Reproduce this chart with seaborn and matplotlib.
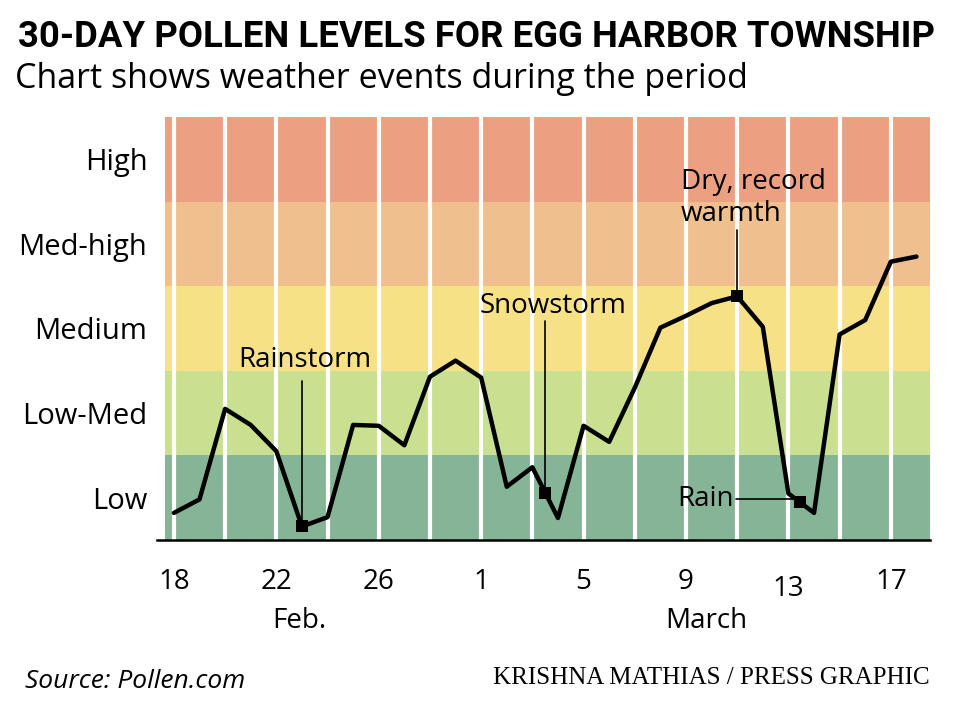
import numpy as np
import pandas as pd
import matplotlib.pyplot as plt
import matplotlib.transforms as mtransforms
import seaborn as sns

# data
days = list(range(30))
pollen = [0.32, 0.48, 1.55, 1.36, 1.05, 0.16, 0.27, 1.36, 1.35, 1.12,
          1.93, 2.12, 1.92, 0.63, 0.86, 0.26, 1.35, 1.16, 1.80, 2.51,
          2.65, 2.80, 2.88, 2.52, 0.55, 0.32, 2.43, 2.60, 3.29, 3.35]
levels = ["Low", "Low-Med", "Medium", "Med-high", "High"]
level_colors = ["#85b497", "#c8e08f", "#f7e186", "#efbf8e", "#eba082"]
tick_days = list(range(0, 30, 2))
tick_labels = ["18", "", "22", "", "26", "", "1", "", "5", "", "9", "", "13", "", "17"]
months = ["Feb.", "March"]
month_days = [4.9, 20.8]
event_names = ["Rainstorm", "Snowstorm", "Dry, record\nwarmth", "Rain"]
event_days = [5, 14.5, 22, 24.45]

df = pd.DataFrame({"day": days, "pollen": pollen})
ev = pd.DataFrame({"day": event_days,
                   "pollen": np.interp(event_days, days, pollen)})

sns.set_style("white")
plt.rcParams["font.family"] = ["Open Sans", "DejaVu Sans"]
plt.rcParams["text.color"] = "black"
plt.rcParams["xtick.color"] = "black"
plt.rcParams["ytick.color"] = "black"

fig = plt.figure(figsize=(9.68, 7.06), dpi=100)
ax = fig.add_axes([157 / 968, 1 - 540 / 706, 773 / 968, 423 / 706])

for i, c in enumerate(level_colors):
    ax.axhspan(i, i + 1, xmin=0.0103, xmax=1, color=c, lw=0, zorder=0)

sns.lineplot(data=df, x="day", y="pollen", ax=ax, color="black", lw=3.2,
             zorder=3)
sns.scatterplot(data=ev, x="day", y="pollen", ax=ax, color="black",
                marker="s", s=80, linewidth=0, zorder=4)

ax.set_xlim(-0.66, 29.53)
ax.set_ylim(0, 5)
ax.set_xlabel("")
ax.set_ylabel("")

ax.set_xticks(tick_days)
ax.set_xticklabels(tick_labels)
ax.set_yticks([0.5, 1.5, 2.5, 3.5, 4.5])
ax.set_yticklabels(levels)
ax.grid(axis="x", color="white", lw=3)
ax.grid(axis="y", visible=False)
ax.tick_params(axis="x", length=19, width=1.8, color="black",
               labelcolor="black", direction="out", pad=1, labelsize=20)
ax.tick_params(axis="y", length=0, pad=7, labelsize=21, labelcolor="black")
ax.xaxis.get_major_ticks()[12].set_pad(6)

for s in ["top", "left", "right"]:
    ax.spines[s].set_visible(False)
ax.spines["bottom"].set_linewidth(1.8)
ax.spines["bottom"].set_color("black")

trans = mtransforms.blended_transform_factory(ax.transData, ax.transAxes)
for m, d in zip(months, month_days):
    ax.text(d, -0.208, m, transform=trans, ha="center", va="baseline",
            fontsize=20)

# event annotations
lbl = dict(fontsize=20, color="black", zorder=5)
ax.plot([event_days[0]] * 2, [ev.pollen[0], 1.88], color="black", lw=1.2)
ax.text(5.1, 2.05, event_names[0], ha="center", va="baseline", **lbl)
ax.plot([event_days[1]] * 2, [ev.pollen[1], 2.59], color="black", lw=1.2)
ax.text(14.8, 2.68, event_names[1], ha="center", va="baseline", **lbl)
ax.plot([event_days[2]] * 2, [ev.pollen[2], 3.66], color="black", lw=1.2)
ax.text(19.8, 3.69, event_names[2], ha="left", va="bottom",
        linespacing=1.17, **lbl)
ax.plot([21.95, event_days[3]], [0.49, 0.49], color="black", lw=1.2)
ax.text(21.85, 0.49, event_names[3], ha="right", va="center", **lbl)

fig.text(18 / 968, 1 - 47 / 706, "30-DAY POLLEN LEVELS FOR EGG HARBOR TOWNSHIP",
         fontsize=26.3, fontweight="bold", family=["Roboto", "DejaVu Sans"],
         va="baseline", color="black")
fig.text(15 / 968, 1 - 88 / 706, "Chart shows weather events during the period",
         fontsize=24.5, va="baseline", color="black")
fig.text(25 / 968, 1 - 688 / 706, "Source: Pollen.com", fontsize=19,
         style="italic", va="baseline", color="black")
fig.text(930 / 968, 1 - 684 / 706, "KRISHNA MATHIAS / PRESS GRAPHIC",
         fontsize=18, family=["Liberation Serif", "DejaVu Serif"],
         ha="right", va="baseline", color="black")

fig.savefig("out.png", dpi=100)
